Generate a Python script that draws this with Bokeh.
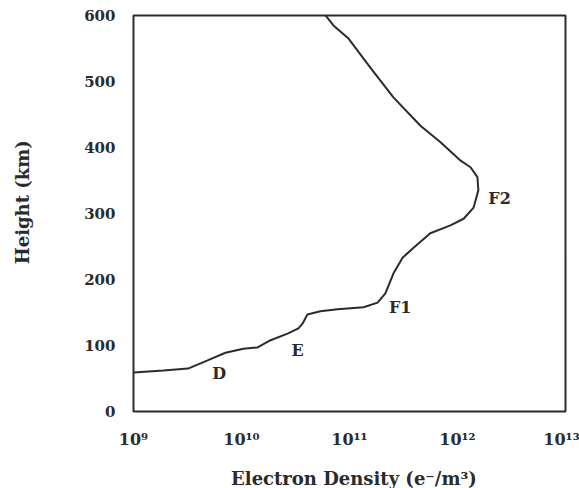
import math
from bokeh.plotting import figure
from bokeh.models import Range1d
from bokeh.core.properties import value
from bokeh.embed import file_html
from bokeh.resources import INLINE

# Electron density profile of the ionosphere (e-/m^3 versus height in km)
density = [1.0e9, 1.9e9, 3.2e9, 4.8e9, 7.1e9, 1.04e10, 1.41e10, 1.86e10, 2.67e10,
           3.37e10, 3.67e10, 4.08e10, 5.38e10, 7.74e10, 1.35e11, 1.82e11, 2.15e11,
           2.55e11, 3.10e11, 3.92e11, 5.6e11, 8.6e11, 1.14e12, 1.41e12, 1.56e12,
           1.53e12, 1.32e12, 1.07e12, 6.97e11, 4.54e11, 2.55e11, 1.56e11, 9.8e10,
           7.1e10, 6.0e10]
height = [59, 62, 65, 77, 89, 95, 97, 108, 118,
          126, 133, 147, 152, 155, 158, 165, 179,
          209, 233, 248, 270, 282, 292, 309, 335,
          355, 370, 380, 408, 433, 476, 521, 565,
          585, 600]

# Ionospheric layer names and where they are written
layer_names = ["D", "E", "F1", "F2"]
layer_x = [6.2e9, 3.3e10, 2.95e11, 2.45e12]
layer_y = [58, 92, 158, 323]

x_ticks = [1e9, 1e10, 1e11, 1e12, 1e13]
x_tick_labels = ["10⁹", "10¹⁰", "10¹¹", "10¹²", "10¹³"]
y_ticks = [0, 100, 200, 300, 400, 500, 600]
y_tick_labels = [str(v) for v in y_ticks]

x_title = "Electron Density (e⁻/m³)"
y_title = "Height (km)"

FONT = "DejaVu Serif"
INK = "#2b2b2b"

# The drawing area covers the whole page: the boxed panel spans 1e9..1e13 by
# 0..600 km and the tick labels and titles are set as text around it, so none
# of them is clipped at the panel edge.
p = figure(width=579, height=488, x_axis_type="log",
           x_axis_location=None, y_axis_location=None,
           x_range=Range1d(5.87e7, 1.348e13), y_range=Range1d(-116.7, 622.7),
           output_backend="svg", toolbar_location=None,
           min_border=0)

p.background_fill_color = "white"
p.border_fill_color = "white"
p.outline_line_color = None
p.grid.visible = False

# panel box
p.quad(left=x_ticks[0], right=x_ticks[-1], bottom=y_ticks[0], top=y_ticks[-1],
       fill_color=None, line_color=INK, line_width=2)

p.line(density, height, line_color=INK, line_width=2)

p.text(x=layer_x, y=layer_y, text=layer_names,
       text_font=value(FONT), text_font_style="bold", text_font_size="16px",
       text_color=INK, text_align="center", text_baseline="middle")

# decade labels under the box (the last one nudged in from the page edge)
p.text(x=x_ticks, y=[y_ticks[0]] * len(x_ticks), text=x_tick_labels,
       y_offset=28, x_offset=[0, 0, 0, 0, -4],
       text_font=value(FONT), text_font_style="bold",
       text_font_size="16px", text_color=INK,
       text_align="center", text_baseline="alphabetic")

# height labels left of the box
p.text(x=[x_ticks[0]] * len(y_ticks), y=y_ticks, text=y_tick_labels,
       x_offset=-18, text_font=value(FONT), text_font_style="bold",
       text_font_size="15px", text_color=INK,
       text_align="right", text_baseline="middle")

# axis titles
p.text(x=[1.1e11], y=[y_ticks[0]], text=[x_title], y_offset=67,
       text_font=value(FONT), text_font_style="bold", text_font_size="18px",
       text_color=INK, text_align="center", text_baseline="alphabetic")
p.text(x=[x_ticks[0]], y=[317], text=[y_title], x_offset=-111,
       angle=math.pi / 2,
       text_font=value(FONT), text_font_style="bold", text_font_size="18px",
       text_color=INK, text_align="center", text_baseline="middle")

open("out.html", "w").write(file_html(p, INLINE))
